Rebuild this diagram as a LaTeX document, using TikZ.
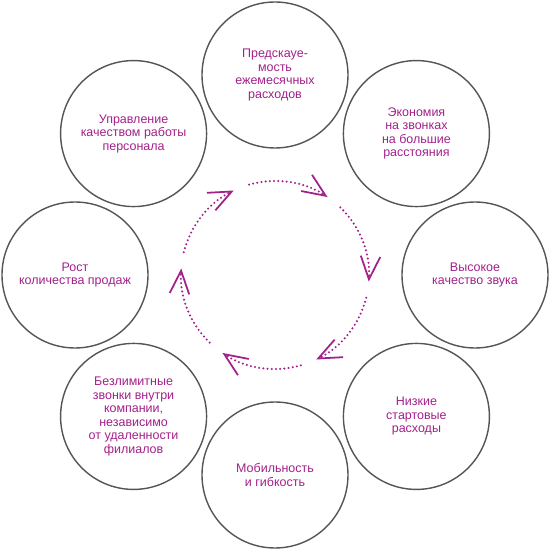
\documentclass[tikz,border=0pt]{standalone}
\usepackage{fontspec}
\setmainfont{Liberation Sans}
\usetikzlibrary{arrows.meta}
\definecolor{plum}{RGB}{163,32,138}
\definecolor{ringgray}{RGB}{85,85,85}

\tikzset{
  bubble/.style={circle, draw=ringgray, line width=0.8pt, minimum size=2.92cm, inner sep=0pt, text=plum, align=center, font=\fontsize{7.1}{7.7}\selectfont},
  cyclearc/.style={plum, line width=1.3pt, line cap=round, dash pattern=on 0pt off 2.4pt, -{Straight Barb[length=4.6mm, width=3.9mm, line width=1pt]}}
}

\begin{document}
\begin{tikzpicture}
      \useasboundingbox (-5.5,-5.5) rectangle (5.5,5.5);

      \node[bubble] (plan) at (90:4) {Предскауе-\\мость\\ежемесячных\\расходов};
      \node[bubble] (econ) at (45:4) {Экономия\\на звонках\\на большие\\расстояния};
      \node[bubble] (sound) at (0:4) {Высокое\\качество звука};
      \node[bubble] (cost) at (-45:4) {Низкие\\стартовые\\расходы};
      \node[bubble] (mob) at (-90:4) {Мобильность\\и гибкость};
      \node[bubble] (calls) at (-135:4) {Безлимитные\\звонки внутри\\компании,\\независимо\\от удаленности\\филиалов};
      \node[bubble] (sales) at (180:4) {Рост\\количества продаж};
      \node[bubble] (staff) at (135:4) {Управление\\качеством работы\\персонала};

      \coordinate (hub) at (0,0);
      \draw[cyclearc] ([shift={(106:1.88)}]hub) arc[start angle=106, end angle=56, radius=1.88];
      \draw[cyclearc] ([shift={(46:1.88)}]hub) arc[start angle=46, end angle=-4, radius=1.88];
      \draw[cyclearc] ([shift={(-14:1.88)}]hub) arc[start angle=-14, end angle=-64, radius=1.88];
      \draw[cyclearc] ([shift={(-74:1.88)}]hub) arc[start angle=-74, end angle=-124, radius=1.88];
      \draw[cyclearc] ([shift={(-134:1.88)}]hub) arc[start angle=-134, end angle=-184, radius=1.88];
      \draw[cyclearc] ([shift={(166:1.88)}]hub) arc[start angle=166, end angle=116, radius=1.88];
    \end{tikzpicture}
\end{document}
